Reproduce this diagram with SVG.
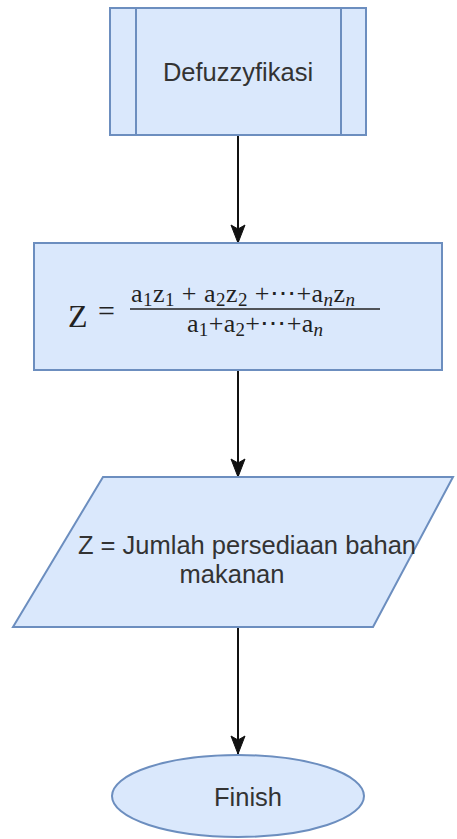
<svg xmlns="http://www.w3.org/2000/svg" width="457" height="839" viewBox="0 0 457 839">
<style>
.shape{fill:#dae8fc;stroke:#6c8ebf;stroke-width:2}
.lbl{font-family:"Liberation Sans",Arial,sans-serif;font-size:25.5px;fill:#333;text-anchor:middle}
.math{font-family:"Liberation Serif","DejaVu Serif",serif;fill:#222}
.conn{stroke:#111;stroke-width:2;fill:none}
</style>
<defs>
<marker id="arr" markerUnits="userSpaceOnUse" markerWidth="20" markerHeight="16" viewBox="0 0 20 16" refX="19" refY="8" orient="auto">
<path d="M1,1 L19,8 L1,15 L5,8 Z" fill="#111" stroke="#111" stroke-width="1"/>
</marker>
</defs>
<rect width="457" height="839" fill="#fff"/>
<g id="connectors">
<line class="conn" x1="238" y1="136" x2="238" y2="243" marker-end="url(#arr)"/>
<line class="conn" x1="238" y1="370" x2="238" y2="477" marker-end="url(#arr)" stroke="#333"/>
<line class="conn" x1="238" y1="627" x2="238" y2="754" marker-end="url(#arr)"/>
</g>
<g id="defuzzyfikasi">
<rect class="shape" x="110" y="8" width="256" height="127"/>
<line x1="136" y1="8" x2="136" y2="135" stroke="#6c8ebf" stroke-width="2"/>
<line x1="341" y1="8" x2="341" y2="135" stroke="#6c8ebf" stroke-width="2"/>
<text class="lbl" x="238" y="81">Defuzzyfikasi</text>
</g>
<g id="formula">
<rect class="shape" x="34" y="243" width="408" height="127"/>
<text class="math" x="68" y="327" font-size="32">Z</text>
<text class="math" x="98" y="321" font-size="30">=</text>
<line x1="130" y1="309" x2="380" y2="309" stroke="#222" stroke-width="1.5"/>
<text class="math" x="131" y="302" font-size="26" textLength="224" lengthAdjust="spacing">a<tspan font-size="19" dy="4">1</tspan><tspan dy="-4">z</tspan><tspan font-size="19" dy="4">1</tspan><tspan dy="-4"> + a</tspan><tspan font-size="19" dy="4">2</tspan><tspan dy="-4">z</tspan><tspan font-size="19" dy="4">2</tspan><tspan dy="-4"> +⋯+a</tspan><tspan font-size="19" dy="4" font-style="italic">n</tspan><tspan dy="-4">z</tspan><tspan font-size="19" dy="4" font-style="italic">n</tspan></text>
<text class="math" x="187" y="332" font-size="26" textLength="136" lengthAdjust="spacing">a<tspan font-size="19" dy="4">1</tspan><tspan dy="-4">+a</tspan><tspan font-size="19" dy="4">2</tspan><tspan dy="-4">+⋯+a</tspan><tspan font-size="19" dy="4" font-style="italic">n</tspan></text>
</g>
<g id="output">
<polygon class="shape" points="103,477 453,477 373,627 13,627"/>
<text class="lbl" x="247" y="554">Z = Jumlah persediaan bahan</text>
<text class="lbl" x="232" y="583">makanan</text>
</g>
<g id="finish">
<ellipse class="shape" cx="238" cy="796" rx="126" ry="41"/>
<text class="lbl" x="248" y="806">Finish</text>
</g>
</svg>
